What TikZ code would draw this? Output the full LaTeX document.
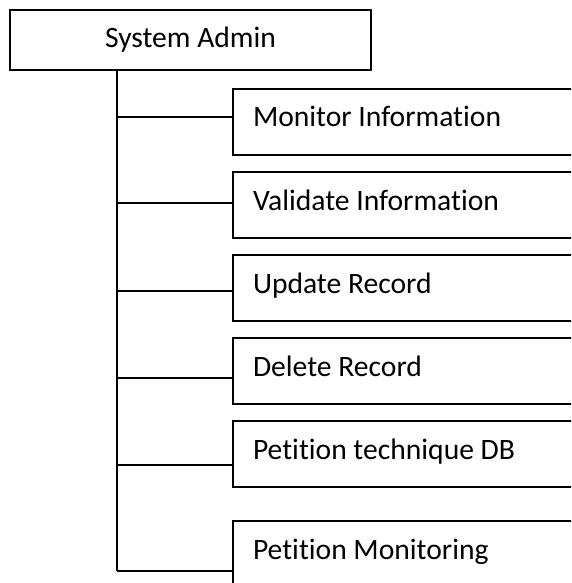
\documentclass[tikz,border=0pt]{standalone}
\usepackage{fontspec}
\setmainfont{Carlito}[Ligatures=NoCommon]
\begin{document}
\begin{tikzpicture}[x=1pt,y=-1pt,
  box/.style={draw=black, line width=2pt, fill=white, rectangle, anchor=north west,
    inner xsep=20pt, inner ysep=0pt, text width=340pt, align=left,
    execute at begin node={\spaceskip=0pt\xspaceskip=0pt\relax},
    text height=38pt, text depth=28pt, font=\fontsize{29.6}{32}\selectfont},
  topbox/.style={draw=black, line width=2pt, fill=white, rectangle, anchor=north west,
    minimum width=361pt, minimum height=60pt, inner sep=0pt,
    font=\fontsize{29.6}{32}\selectfont},
  link/.style={draw=black, line width=2pt}]
\fill[white] (0,0) rectangle (571,583);
\useasboundingbox (0,0) rectangle (571,583);
\clip (0,0) rectangle (571,583);
\node[topbox] (sa) at (9,9) {System Admin};
\node[box] (b1) at (232,88) {Monitor Information};
\node[box] (b2) at (232,171) {Validate Information};
\node[box] (b3) at (232,254) {Update Record};
\node[box] (b4) at (232,337) {Delete Record};
\node[box] (b5) at (232,420) {Petition technique DB};
\node[box] (b6) at (232,520) {Petition Monitoring};
\coordinate (j1) at (117,117);
\coordinate (j2) at (117,203);
\coordinate (j3) at (117,291);
\coordinate (j4) at (117,378);
\coordinate (j5) at (117,465);
\coordinate (j6) at (117,571);
\draw[link] (sa.south -| j1) -- (j6);
\foreach \i in {1,...,6} {\draw[link] (j\i) -- (j\i -| b\i.west);}
\end{tikzpicture}
\end{document}
